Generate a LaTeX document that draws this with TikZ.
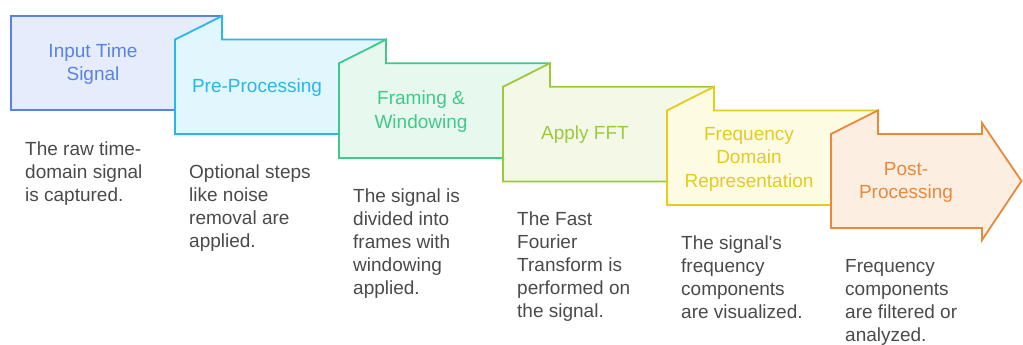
\documentclass[tikz,border=0pt]{standalone}
\usepackage{fontspec}
\setmainfont{Liberation Sans}
\definecolor{bA}{HTML}{5A82E6}\definecolor{fA}{HTML}{E5EDFD}
\definecolor{bB}{HTML}{29B6E8}\definecolor{fB}{HTML}{E2F6FD}
\definecolor{bC}{HTML}{40C98A}\definecolor{fC}{HTML}{E7F8EF}
\definecolor{bD}{HTML}{9CC93C}\definecolor{fD}{HTML}{F3F9E6}
\definecolor{bE}{HTML}{E3CC1E}\definecolor{fE}{HTML}{FEFBE3}
\definecolor{bF}{HTML}{E8883A}\definecolor{fF}{HTML}{FDEEE2}
\definecolor{desc}{HTML}{4A4A4A}
\tikzset{
  boxshape/.style={line width=1.8pt, line join=miter},
  title/.style={font=\fontsize{19}{23.5}\selectfont, align=center, inner sep=0pt},
  descr/.style={font=\fontsize{19}{23}\selectfont, text=desc, align=left, inner sep=0pt, anchor=north west}
}
\begin{document}
\begin{tikzpicture}[x=1pt,y=-1pt]
\useasboundingbox (0,0) rectangle (1023,345);
% box 1
\path[boxshape, draw=bA, fill=fA] (11,110) -- (11,16) -- (222,16) -- (222,110) -- cycle;
\node[title, text=bA] (t1) at (93,64) {Input Time\\Signal};
% box 2
\path[boxshape, draw=bB, fill=fB] (175,134) -- (175,39.6) -- (222,16) -- (222,39.6) -- (386,39.6) -- (386,134) -- cycle;
\node[title, text=bB] (t2) at (257,88) {Pre-Processing};
% box 3
\path[boxshape, draw=bC, fill=fC] (339,158) -- (339,63.2) -- (386,39.6) -- (386,63.2) -- (550,63.2) -- (550,158) -- cycle;
\node[title, text=bC] (t3) at (421,111.5) {Framing \&\\Windowing};
% box 4
\path[boxshape, draw=bD, fill=fD] (503,181.5) -- (503,86.8) -- (550,63.2) -- (550,86.8) -- (714,86.8) -- (714,181.5) -- cycle;
\node[title, text=bD] (t4) at (585,135) {Apply FFT};
% box 5
\path[boxshape, draw=bE, fill=fE] (667,205) -- (667,110.4) -- (714,86.8) -- (714,110.4) -- (878,110.4) -- (878,205) -- cycle;
\node[title, text=bE] (t5) at (749,159) {Frequency\\Domain\\Representation};
% box 6 (arrow)
\path[boxshape, draw=bF, fill=fF] (831,228) -- (831,134) -- (878,110.4) -- (878,134) -- (982,134) -- (982,123) -- (1021.5,181) -- (982,240) -- (982,228) -- cycle;
\node[title, text=bF] (t6) at (906,182.5) {Post-\\Processing};
% descriptions
\node[descr] (d1) at (25,141.5) {The raw time-\\domain signal\\is captured.};
\node[descr] (d2) at (189,165) {Optional steps\\like noise\\removal are\\applied.};
\node[descr] (d3) at (353,188.5) {The signal is\\divided into\\frames with\\windowing\\applied.};
\node[descr] (d4) at (517,212) {The Fast\\Fourier\\Transform is\\performed on\\the signal.};
\node[descr] (d5) at (681,235.5) {The signal\textquotesingle s\\frequency\\components\\are visualized.};
\node[descr] (d6) at (845,259) {Frequency\\components\\are filtered or\\analyzed.};
\end{tikzpicture}
\end{document}
